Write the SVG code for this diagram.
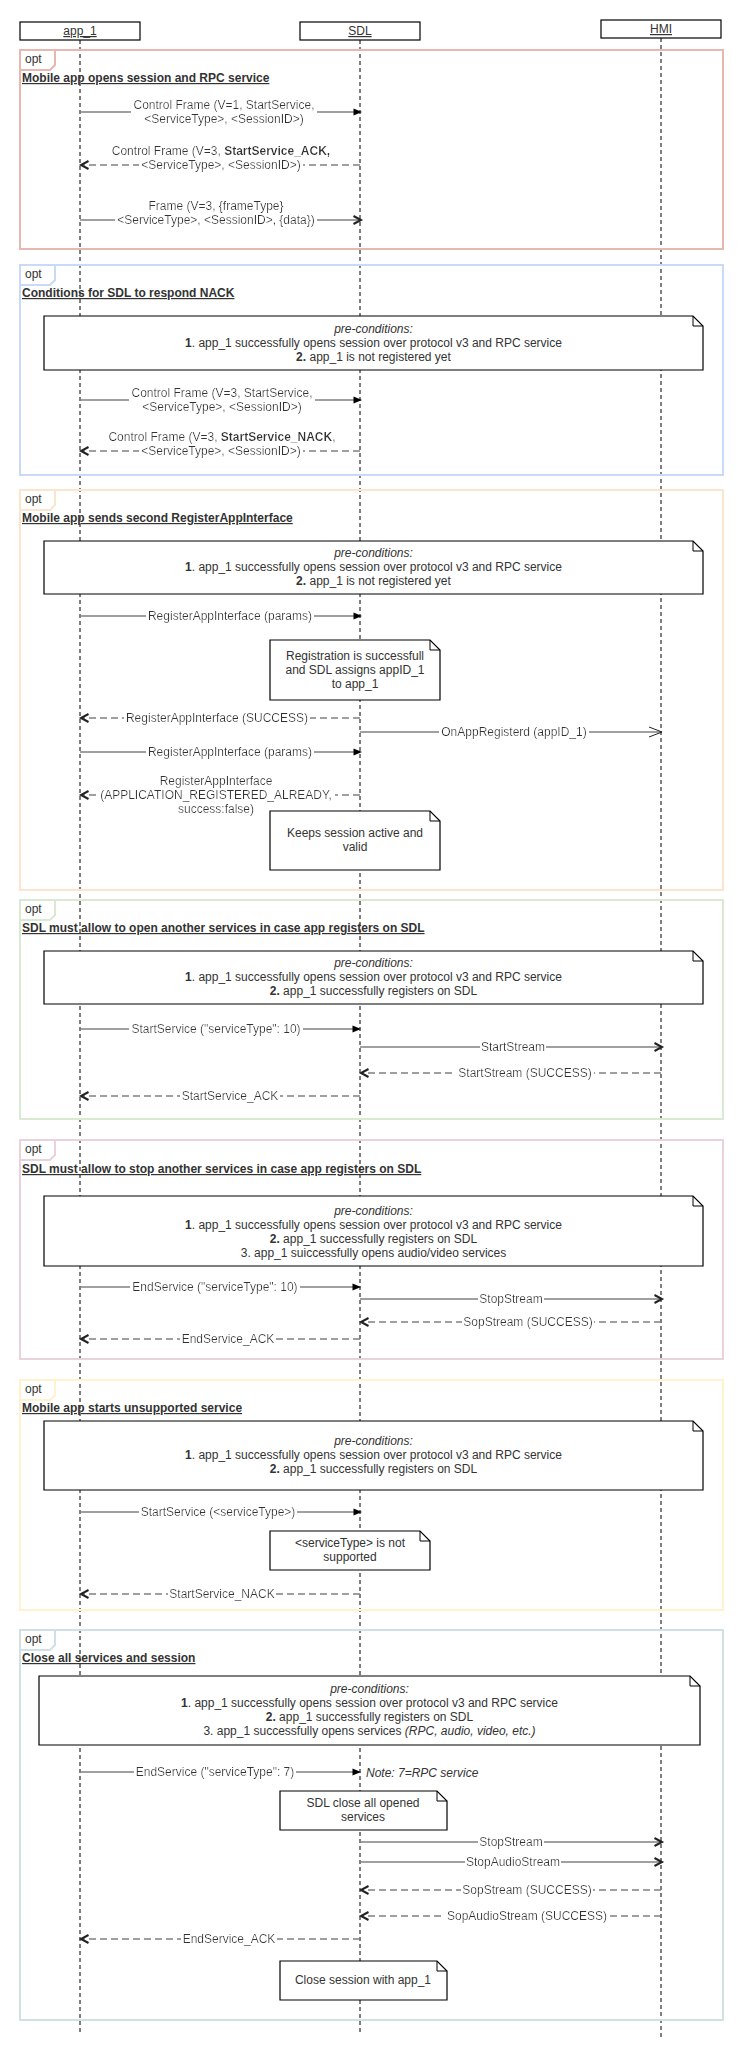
<svg xmlns="http://www.w3.org/2000/svg" width="745" height="2060" viewBox="0 0 745 2060">
<style>
text{font-family:"Liberation Sans",Arial,Helvetica,sans-serif;font-size:12px;fill:#333}
.hd{text-anchor:middle;text-decoration:underline}
.ttl{font-weight:bold;text-decoration:underline}
.c{text-anchor:middle}
.b{font-weight:bold}
.i{font-style:italic}
.life{stroke:#000;stroke-width:1;stroke-dasharray:4 3;fill:none}
.box{fill:#fff;stroke:#000;stroke-width:1.2}
.frame{fill:none;stroke-width:2}
.tab{fill:#fff;stroke-width:2}
.note{fill:#fff;stroke:#000;stroke-width:1.2}
.fold{fill:none;stroke:#000;stroke-width:1}
.sync{stroke:#808080;stroke-width:1.5;fill:none;marker-end:url(#mFill)}
.open{stroke:#808080;stroke-width:1.5;fill:none;marker-end:url(#mOpen)}
.thin{stroke:#808080;stroke-width:1.5;fill:none;marker-end:url(#mThin)}
.ret{stroke:#808080;stroke-width:1.5;fill:none;stroke-dasharray:7 4;marker-end:url(#mOpen)}
.lbl{filter:url(#bg)}
</style>
<defs>
<filter id="bg" x="-0.01" y="0" width="1.02" height="1"><feFlood flood-color="#fff"/><feComposite in="SourceGraphic" operator="over"/></filter>
<marker id="mFill" markerUnits="userSpaceOnUse" markerWidth="9" markerHeight="8" refX="6.5" refY="3.5" orient="auto" overflow="visible"><path d="M0,0 L8.5,3.5 L0,7 Z" fill="#000"/></marker>
<marker id="mOpen" markerUnits="userSpaceOnUse" markerWidth="9" markerHeight="9" refX="7.5" refY="4" orient="auto" overflow="visible"><path d="M0,0 L7.5,4 L0,8" fill="none" stroke="#222" stroke-width="2"/></marker>
<marker id="mThin" markerUnits="userSpaceOnUse" markerWidth="14" markerHeight="11" refX="13" refY="5" orient="auto" overflow="visible"><path d="M0,0 L13,5 L0,10" fill="none" stroke="#222" stroke-width="1"/></marker>
</defs>
<rect width="745" height="2060" fill="#fff"/>

<g id="lifelines">
<g id="app_1"><line class="life" x1="80" y1="40" x2="80" y2="2032"/><rect class="box" x="20" y="22" width="120" height="18"/><text class="hd" x="80" y="35">app_1</text></g>
<g id="SDL"><line class="life" x1="360" y1="40" x2="360" y2="2032"/><rect class="box" x="300" y="22" width="120" height="18"/><text class="hd" x="360" y="35">SDL</text></g>
<g id="HMI"><line class="life" x1="661" y1="38" x2="661" y2="2038"/><rect class="box" x="601" y="20" width="120" height="18"/><text class="hd" x="661" y="33">HMI</text></g>
</g>

<g id="frames">
<g id="frame1"><rect class="frame" x="20" y="50" width="703" height="199" stroke="#e6b8af"/><path class="tab" d="M20,50 H55 V65 L50,70 H20 Z" stroke="#e6b8af"/><text x="25" y="63">opt</text><text class="ttl" x="22" y="82">Mobile app opens session and RPC service</text></g>
<g id="frame2"><rect class="frame" x="20" y="265" width="703" height="210" stroke="#c9daf8"/><path class="tab" d="M20,265 H55 V280 L50,285 H20 Z" stroke="#c9daf8"/><text x="25" y="278">opt</text><text class="ttl" x="22" y="297">Conditions for SDL to respond NACK</text></g>
<g id="frame3"><rect class="frame" x="20" y="490" width="703" height="400" stroke="#fce5cd"/><path class="tab" d="M20,490 H55 V505 L50,510 H20 Z" stroke="#fce5cd"/><text x="25" y="503">opt</text><text class="ttl" x="22" y="522">Mobile app sends second RegisterAppInterface</text></g>
<g id="frame4"><rect class="frame" x="20" y="900" width="703" height="219" stroke="#d9ead3"/><path class="tab" d="M20,900 H55 V915 L50,920 H20 Z" stroke="#d9ead3"/><text x="25" y="913">opt</text><text class="ttl" x="22" y="932">SDL must allow to open another services in case app registers on SDL</text></g>
<g id="frame5"><rect class="frame" x="20" y="1140" width="703" height="219" stroke="#ead1dc"/><path class="tab" d="M20,1140 H55 V1155 L50,1160 H20 Z" stroke="#ead1dc"/><text x="25" y="1153">opt</text><text class="ttl" x="22" y="1173">SDL must allow to stop another services in case app registers on SDL</text></g>
<g id="frame6"><rect class="frame" x="20" y="1380" width="703" height="230" stroke="#fff2cc"/><path class="tab" d="M20,1380 H55 V1395 L50,1400 H20 Z" stroke="#fff2cc"/><text x="25" y="1393">opt</text><text class="ttl" x="22" y="1412">Mobile app starts unsupported service</text></g>
<g id="frame7"><rect class="frame" x="20" y="1630" width="703" height="390" stroke="#d0e0e3"/><path class="tab" d="M20,1630 H55 V1645 L50,1650 H20 Z" stroke="#d0e0e3"/><text x="25" y="1643">opt</text><text class="ttl" x="22" y="1662">Close all services and session</text></g>
</g>

<g id="notes">
<g id="note1"><path class="note" d="M44,316 H693 L703,326 V370 H44 Z"/><path class="fold" d="M693,316 V326 H703"/>
<text class="c" x="373.5" y="333"><tspan class="i">pre-conditions:</tspan></text>
<text class="c" x="373.5" y="347"><tspan class="b">1</tspan>. app_1 successfully opens session over protocol v3 and RPC service</text>
<text class="c" x="373.5" y="361"><tspan class="b">2.</tspan> app_1 is not registered yet</text></g>
<g id="note2"><path class="note" d="M44,541 H693 L703,551 V594 H44 Z"/><path class="fold" d="M693,541 V551 H703"/>
<text class="c" x="373.5" y="557"><tspan class="i">pre-conditions:</tspan></text>
<text class="c" x="373.5" y="571"><tspan class="b">1</tspan>. app_1 successfully opens session over protocol v3 and RPC service</text>
<text class="c" x="373.5" y="585"><tspan class="b">2.</tspan> app_1 is not registered yet</text></g>
<g id="note3"><path class="note" d="M270,640 H430 L440,650 V700 H270 Z"/><path class="fold" d="M430,640 V650 H440"/>
<text class="c" x="355" y="660">Registration is successfull</text>
<text class="c" x="355" y="674">and SDL assigns appID_1</text>
<text class="c" x="355" y="688">to app_1</text></g>
<g id="note4"><path class="note" d="M270,811 H430 L440,821 V870 H270 Z"/><path class="fold" d="M430,811 V821 H440"/>
<text class="c" x="355" y="837">Keeps session active and</text>
<text class="c" x="355" y="851">valid</text></g>
<g id="note5"><path class="note" d="M44,951 H693 L703,961 V1004 H44 Z"/><path class="fold" d="M693,951 V961 H703"/>
<text class="c" x="373.5" y="967"><tspan class="i">pre-conditions:</tspan></text>
<text class="c" x="373.5" y="981"><tspan class="b">1</tspan>. app_1 successfully opens session over protocol v3 and RPC service</text>
<text class="c" x="373.5" y="995"><tspan class="b">2.</tspan> app_1 successfully registers on SDL</text></g>
<g id="note6"><path class="note" d="M44,1196 H693 L703,1206 V1266 H44 Z"/><path class="fold" d="M693,1196 V1206 H703"/>
<text class="c" x="373.5" y="1215"><tspan class="i">pre-conditions:</tspan></text>
<text class="c" x="373.5" y="1229"><tspan class="b">1</tspan>. app_1 successfully opens session over protocol v3 and RPC service</text>
<text class="c" x="373.5" y="1243"><tspan class="b">2.</tspan> app_1 successfully registers on SDL</text>
<text class="c" x="373.5" y="1257">3. app_1 suiccessfully opens audio/video services</text></g>
<g id="note7"><path class="note" d="M44,1421 H693 L703,1431 V1490 H44 Z"/><path class="fold" d="M693,1421 V1431 H703"/>
<text class="c" x="373.5" y="1445"><tspan class="i">pre-conditions:</tspan></text>
<text class="c" x="373.5" y="1459"><tspan class="b">1</tspan>. app_1 successfully opens session over protocol v3 and RPC service</text>
<text class="c" x="373.5" y="1473"><tspan class="b">2.</tspan> app_1 successfully registers on SDL</text></g>
<g id="note8"><path class="note" d="M270,1531 H420 L430,1541 V1570 H270 Z"/><path class="fold" d="M420,1531 V1541 H430"/>
<text class="c" x="350" y="1547">&lt;serviceType&gt; is not</text>
<text class="c" x="350" y="1561">supported</text></g>
<g id="note9"><path class="note" d="M39,1676 H690 L700,1686 V1745 H39 Z"/><path class="fold" d="M690,1676 V1686 H700"/>
<text class="c" x="369.5" y="1693"><tspan class="i">pre-conditions:</tspan></text>
<text class="c" x="369.5" y="1707"><tspan class="b">1</tspan>. app_1 successfully opens session over protocol v3 and RPC service</text>
<text class="c" x="369.5" y="1721"><tspan class="b">2.</tspan> app_1 successfully registers on SDL</text>
<text class="c" x="369.5" y="1735">3. app_1 successfully opens services <tspan class="i">(RPC, audio, video, etc.)</tspan></text></g>
<g id="note10"><path class="note" d="M280,1791 H437 L447,1801 V1830 H280 Z"/><path class="fold" d="M437,1791 V1801 H447"/>
<text class="c" x="363" y="1807">SDL close all opened</text>
<text class="c" x="363" y="1821">services</text></g>
<g id="note11"><path class="note" d="M280,1961 H437 L447,1971 V2000 H280 Z"/><path class="fold" d="M437,1961 V1971 H447"/>
<text class="c" x="363" y="1984">Close session with app_1</text></g>
</g>

<g id="connectors">
<line class="sync" x1="80" y1="112" x2="360" y2="112"/>
<text class="c lbl" x="224"><tspan x="224" y="109">Control Frame (V=1, StartService,</tspan><tspan x="224" y="123">&lt;ServiceType&gt;, &lt;SessionID&gt;)</tspan></text>
<line class="ret" x1="360" y1="165" x2="81" y2="165"/>
<text class="c lbl" x="221" y="155">Control Frame (V=3, <tspan class="b">StartService_ACK,</tspan></text>
<text class="c lbl" x="221" y="169">&lt;ServiceType&gt;, &lt;SessionID&gt;)</text>
<line class="open" x1="80" y1="220" x2="361" y2="220"/>
<text class="c lbl" x="216" y="210">Frame (V=3, {frameType}</text>
<text class="c lbl" x="216" y="224">&lt;ServiceType&gt;, &lt;SessionID&gt;, {data})</text>

<line class="sync" x1="80" y1="400" x2="360" y2="400"/>
<text class="c lbl" x="222"><tspan x="222" y="397">Control Frame (V=3, StartService,</tspan><tspan x="222" y="411">&lt;ServiceType&gt;, &lt;SessionID&gt;)</tspan></text>
<line class="ret" x1="360" y1="451" x2="81" y2="451"/>
<text class="c lbl" x="222" y="441">Control Frame (V=3, <tspan class="b">StartService_NACK</tspan>,</text>
<text class="c lbl" x="221" y="455">&lt;ServiceType&gt;, &lt;SessionID&gt;)</text>

<line class="sync" x1="80" y1="616" x2="360" y2="616"/>
<text class="c lbl" x="230" y="620">RegisterAppInterface (params)</text>
<line class="ret" x1="360" y1="718" x2="81" y2="718"/>
<text class="c lbl" x="217" y="722">RegisterAppInterface (SUCCESS)</text>
<line class="thin" x1="360" y1="732" x2="662" y2="732"/>
<text class="c lbl" x="514" y="736">OnAppRegisterd (appID_1)</text>
<line class="sync" x1="80" y1="752" x2="360" y2="752"/>
<text class="c lbl" x="230" y="756">RegisterAppInterface (params)</text>
<line class="ret" x1="360" y1="795" x2="81" y2="795"/>
<text class="c lbl" x="216" y="785">RegisterAppInterface</text>
<text class="c lbl" x="216" y="799">(APPLICATION_REGISTERED_ALREADY,</text>
<text class="c lbl" x="216" y="813">success:false)</text>

<line class="sync" x1="80" y1="1029" x2="359" y2="1029"/>
<text class="c lbl" x="216" y="1033">StartService ("serviceType": 10)</text>
<line class="open" x1="360" y1="1047" x2="662" y2="1047"/>
<text class="c lbl" x="513" y="1051">StartStream</text>
<line class="ret" x1="661" y1="1073" x2="361" y2="1073"/>
<text class="c lbl" x="525" y="1077">StartStream (SUCCESS)</text>
<line class="ret" x1="360" y1="1096" x2="81" y2="1096"/>
<text class="c lbl" x="230" y="1100">StartService_ACK</text>

<line class="sync" x1="80" y1="1287" x2="359" y2="1287"/>
<text class="c lbl" x="215" y="1291">EndService ("serviceType": 10)</text>
<line class="open" x1="360" y1="1299" x2="662" y2="1299"/>
<text class="c lbl" x="511" y="1303">StopStream</text>
<line class="ret" x1="661" y1="1322" x2="361" y2="1322"/>
<text class="c lbl" x="528" y="1326">SopStream (SUCCESS)</text>
<line class="ret" x1="360" y1="1339" x2="81" y2="1339"/>
<text class="c lbl" x="228" y="1343">EndService_ACK</text>

<line class="sync" x1="80" y1="1512" x2="360" y2="1512"/>
<text class="c lbl" x="218" y="1516">StartService (&lt;serviceType&gt;)</text>
<line class="ret" x1="360" y1="1594" x2="81" y2="1594"/>
<text class="c lbl" x="222" y="1598">StartService_NACK</text>

<line class="sync" x1="80" y1="1772" x2="359" y2="1772"/>
<text class="c lbl" x="215" y="1776">EndService ("serviceType": 7)</text>
<text class="i" x="366" y="1777">Note: 7=RPC service</text>
<line class="open" x1="360" y1="1842" x2="662" y2="1842"/>
<text class="c lbl" x="511" y="1846">StopStream</text>
<line class="open" x1="360" y1="1862" x2="662" y2="1862"/>
<text class="c lbl" x="513" y="1866">StopAudioStream</text>
<line class="ret" x1="661" y1="1890" x2="361" y2="1890"/>
<text class="c lbl" x="527" y="1894">SopStream (SUCCESS)</text>
<line class="ret" x1="661" y1="1916" x2="361" y2="1916"/>
<text class="c lbl" x="527" y="1920">SopAudioStream (SUCCESS)</text>
<line class="ret" x1="360" y1="1939" x2="81" y2="1939"/>
<text class="c lbl" x="229" y="1943">EndService_ACK</text>
</g>
</svg>
